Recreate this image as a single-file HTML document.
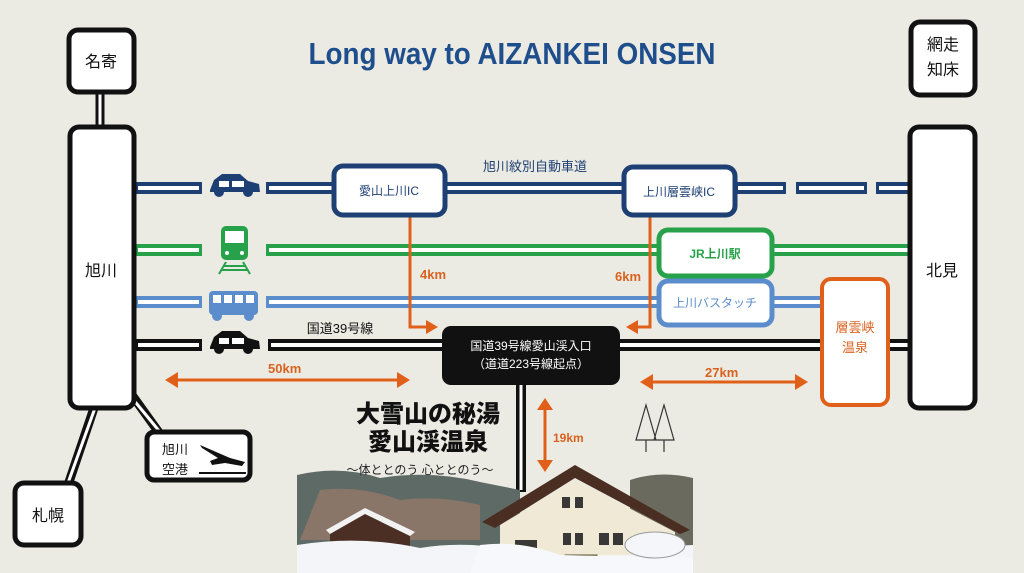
<!DOCTYPE html>
<html><head><meta charset="utf-8"><style>
html,body{margin:0;padding:0;background:#ecebe3;}
svg{display:block}
text{font-family:"Liberation Sans","Noto Sans CJK JP",sans-serif;}
</style></head><body>
<svg width="1024" height="573" viewBox="0 0 1024 573" xmlns="http://www.w3.org/2000/svg">
<rect width="1024" height="573" fill="#ecebe3"/>
<!-- connectors -->
<g stroke="#111" stroke-width="9"><line x1="100" y1="90" x2="100" y2="130"/><line x1="95" y1="405" x2="68" y2="485"/><line x1="132" y1="395" x2="160" y2="434"/></g>
<g stroke="#fff" stroke-width="3"><line x1="100" y1="92" x2="100" y2="128"/><line x1="95" y1="408" x2="68" y2="483"/><line x1="132" y1="398" x2="160" y2="432"/></g>
<!-- title -->
<text x="512" y="64" text-anchor="middle" font-size="31" font-weight="bold" fill="#1f4e8c" textLength="407" lengthAdjust="spacingAndGlyphs">Long way to AIZANKEI ONSEN</text>
<!-- lines -->
<g fill="none" stroke-linecap="butt">
<g stroke="#1e3f73" stroke-width="12"><path d="M134 188H202M266 188H335M445 188H625M735 188H786M796 188H867M876 188H912"/></g>
<g stroke="#27a24a" stroke-width="12"><path d="M134 250H202M266 250H660M772 250H912"/></g>
<g stroke="#5b8ccc" stroke-width="12"><path d="M134 302H202M266 302H660M772 302H822"/></g>
<g stroke="#111" stroke-width="12"><path d="M134 345H202M268 345H444M618 345H822M888 345H912"/></g>
<g stroke="#fff" stroke-width="4"><path d="M138 188H199M269 188H335M445 188H625M738 188H783M799 188H864M879 188H912M138 250H199M269 250H660M772 250H912M138 302H199M269 302H660M772 302H822M138 345H199M271 345H444M618 345H822M888 345H912"/></g>
<!-- black vertical -->
<line x1="521" y1="383" x2="521" y2="492" stroke="#111" stroke-width="10"/>
<line x1="521" y1="383" x2="521" y2="490" stroke="#fff" stroke-width="3"/>
</g>
<!-- orange connectors -->
<g stroke="#e0601a" stroke-width="3" fill="none">
<path d="M410 215V327H428"/><path d="M650 215V327H636"/>
<line x1="175" y1="380" x2="400" y2="380"/><line x1="650" y1="382" x2="798" y2="382"/>
<line x1="545" y1="408" x2="545" y2="462"/>
</g>
<g fill="#e0601a">
<polygon points="438,327 426,320 426,334"/><polygon points="626,327 638,320 638,334"/>
<polygon points="165,380 178,372 178,388"/><polygon points="410,380 397,372 397,388"/>
<polygon points="640,382 653,374 653,390"/><polygon points="808,382 795,374 795,390"/>
<polygon points="545,398 537,410 553,410"/><polygon points="545,472 537,460 553,460"/>
</g>
<g fill="#d9621f" font-size="13" font-weight="bold">
<text x="420" y="279">4km</text><text x="615" y="281">6km</text>
<text x="268" y="373">50km</text><text x="705" y="377">27km</text>
<text x="553" y="442" font-size="12">19km</text>
</g>
<!-- boxes -->
<g stroke="#111" stroke-width="5" fill="#fff">
<rect x="69" y="30" width="65" height="62" rx="9"/>
<rect x="70" y="127" width="64" height="281" rx="9"/>
<rect x="15" y="483" width="66" height="62" rx="9"/>
<rect x="147" y="432" width="103" height="48" rx="7"/>
<rect x="911" y="22" width="64" height="73" rx="9"/>
<rect x="910" y="127" width="65" height="281" rx="9"/>
</g>
<g stroke="#1e3f73" stroke-width="5" fill="#fff">
<rect x="334" y="166" width="111" height="49" rx="9"/>
<rect x="624" y="167" width="111" height="48" rx="9"/>
</g>
<rect x="659" y="230" width="113" height="46" rx="9" fill="#fff" stroke="#27a24a" stroke-width="5"/>
<rect x="659" y="281" width="113" height="44" rx="9" fill="#fff" stroke="#5b8ccc" stroke-width="5"/>
<rect x="822" y="279" width="66" height="126" rx="9" fill="#fff" stroke="#e0601a" stroke-width="4"/>
<rect x="442" y="326" width="178" height="59" rx="9" fill="#111"/>
<!-- box labels -->
<g font-size="16" fill="#111" text-anchor="middle">
<text x="101" y="67">名寄</text><text x="101" y="276">旭川</text><text x="48" y="521">札幌</text>
<text x="943" y="50">網走</text><text x="943" y="75">知床</text><text x="942" y="276">北見</text>
</g>
<text x="162" y="454" font-size="13" fill="#111">旭川</text><text x="162" y="474" font-size="13" fill="#111">空港</text>
<path d="M200 445 L230 458 L245 462 L242 466 L225 463 L212 465 L210 461 L218 458 L202 448Z" fill="#111"/>
<line x1="199" y1="473" x2="246" y2="473" stroke="#111" stroke-width="2"/>
<g font-size="12" text-anchor="middle">
<text x="389" y="195" fill="#1e3f73">愛山上川IC</text><text x="679" y="196" fill="#1e3f73">上川層雲峡IC</text>
<text x="715" y="258" fill="#27a24a" font-weight="bold">JR上川駅</text><text x="715" y="307" fill="#5b8ccc">上川バスタッチ</text>
<text x="855" y="332" fill="#d9621f" font-size="13">層雲峡</text><text x="855" y="352" fill="#d9621f" font-size="13">温泉</text>
<text x="531" y="350" fill="#fff">国道39号線愛山渓入口</text><text x="531" y="368" fill="#fff">（道道223号線起点）</text>
<text x="535" y="171" fill="#1e3f73" font-size="13">旭川紋別自動車道</text>
<text x="340" y="333" fill="#111" font-size="13">国道39号線</text>
</g>
<!-- icons -->
<g fill="#1e3f73"><path d="M210 190 L214 180 L222 174 L240 174 L248 181 L259 184 L260 192 L210 192Z"/><circle cx="219" cy="192" r="5"/><circle cx="248" cy="192" r="5"/></g>
<rect x="219" y="181" width="10" height="6" fill="#fff"/><rect x="232" y="181" width="12" height="6" fill="#fff"/>
<g fill="#111"><path d="M210 347 L214 337 L222 331 L240 331 L248 338 L259 341 L260 349 L210 349Z"/><circle cx="219" cy="349" r="5"/><circle cx="248" cy="349" r="5"/></g>
<rect x="219" y="338" width="10" height="6" fill="#fff"/><rect x="232" y="338" width="12" height="6" fill="#fff"/>
<g fill="#27a24a"><rect x="221" y="226" width="27" height="34" rx="5"/></g>
<rect x="225" y="231" width="19" height="12" fill="#fff"/><circle cx="227" cy="253" r="2" fill="#fff"/><circle cx="242" cy="253" r="2" fill="#fff"/>
<g stroke="#27a24a" stroke-width="2"><path d="M226 262 L219 274 M243 262 L250 274 M223 266H246M221 270H248"/></g>
<rect x="209" y="291" width="49" height="24" rx="4" fill="#5b8ccc"/>
<g fill="#fff"><rect x="213" y="295" width="8" height="8"/><rect x="224" y="295" width="8" height="8"/><rect x="235" y="295" width="8" height="8"/><rect x="246" y="295" width="8" height="8"/></g>
<circle cx="217" cy="316" r="5" fill="#5b8ccc"/><circle cx="249" cy="316" r="5" fill="#5b8ccc"/>
<!-- illustration -->
<g>
<path d="M297 475 Q340 465 380 478 Q430 470 480 482 L520 490 L520 573 L297 573Z" fill="#5d6a66"/>
<path d="M630 480 Q660 470 693 478 L693 573 L630 573Z" fill="#6a6a5e"/>
<path d="M320 490 Q360 485 400 500 Q440 495 480 505 L480 540 L300 540Z" fill="#8a7668"/>
<polygon points="330,530 365,510 410,530 410,560 330,560" fill="#4b2f25"/>
<polygon points="326,530 365,508 415,532 410,536 365,514 330,534" fill="#f2f2f2"/>
<path d="M297 545 Q360 535 420 548 Q470 540 520 552 L693 545 L693 573 L297 573Z" fill="#f4f5f8"/>
<polygon points="482,522 575,465 690,530 680,534 575,478 495,528" fill="#4a2e22"/>
<polygon points="500,525 575,480 675,532 675,555 500,555" fill="#efe9d6"/>
<g fill="#3a3836"><rect x="562" y="497" width="8" height="11"/><rect x="575" y="497" width="8" height="11"/><rect x="563" y="533" width="8" height="12"/><rect x="575" y="533" width="8" height="12"/><rect x="599" y="533" width="10" height="12"/><rect x="613" y="533" width="10" height="12"/><rect x="515" y="540" width="22" height="15"/></g>
<rect x="565" y="555" width="32" height="9" fill="#c99a3b" stroke="#553" stroke-width="1"/>
<path d="M480 545 Q520 540 560 555 L693 558 L693 573 L470 573Z" fill="#f7f8fb"/>
<ellipse cx="655" cy="545" rx="30" ry="13" fill="#f5f6f9" stroke="#999" stroke-width="1"/>
</g>
<g fill="none" stroke="#333" stroke-width="1.2"><path d="M646 405 L636 440 L656 440 Z M664 405 L654 440 L674 440 Z"/><path d="M646 440V452M664 440V452"/></g>
<text x="428" y="422" text-anchor="middle" font-size="24" font-weight="900" fill="#111">大雪山の秘湯</text>
<text x="428" y="450" text-anchor="middle" font-size="24" font-weight="900" fill="#111">愛山渓温泉</text>
<text x="420" y="474" text-anchor="middle" font-size="12" fill="#222">〜体ととのう 心ととのう〜</text>
</svg>
</body></html>
